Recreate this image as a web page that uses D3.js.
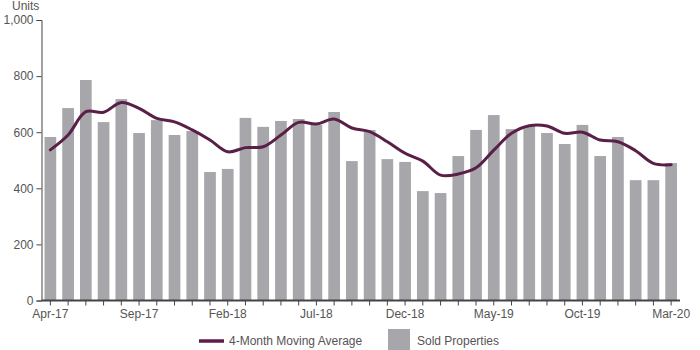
<!DOCTYPE html>
<html>
<head>
<meta charset="utf-8">
<script src="https://cdn.jsdelivr.net/npm/d3@7"></script>
<style>
  body { margin: 0; background: #fff; }
  svg text { font-family: "Liberation Sans", Arial, sans-serif; fill: #555; }
</style>
</head>
<body>
<svg id="chart"></svg>
<script>
var months = ["Apr-17","May-17","Jun-17","Jul-17","Aug-17","Sep-17","Oct-17","Nov-17","Dec-17",
  "Jan-18","Feb-18","Mar-18","Apr-18","May-18","Jun-18","Jul-18","Aug-18","Sep-18","Oct-18","Nov-18","Dec-18",
  "Jan-19","Feb-19","Mar-19","Apr-19","May-19","Jun-19","Jul-19","Aug-19","Sep-19","Oct-19","Nov-19","Dec-19",
  "Jan-20","Feb-20","Mar-20"];
var sold = [583, 686, 786, 636, 718, 597, 643, 590, 604,
  458, 469, 651, 619, 640, 647, 626, 672, 497, 608, 504, 494,
  390, 383, 515, 608, 661, 611, 622, 597, 558, 626, 515, 583,
  429, 429, 490];
var movingAvg = [537, 590, 673, 671, 706, 685, 649, 637, 608,
  572, 530, 545, 548, 590, 635, 629, 647, 615, 602, 566, 525,
  497, 447, 451, 473, 536, 596, 623, 622, 596, 600, 572, 566,
  534, 489, 484];
var yTicks = [0, 200, 400, 600, 800, 1000];

var width = 700, height = 350;
var svg = d3.select("#chart").attr("width", width).attr("height", height);

var x = d3.scaleBand().domain(months).range([41.5, 680]).paddingInner(0.34).paddingOuter(0.17);
var y = d3.scaleLinear().domain([0, 1000]).range([300.5, 20]);

// bars
svg.append("g").selectAll("rect")
  .data(sold)
  .enter().append("rect")
  .attr("x", function(d, i) { return x(months[i]); })
  .attr("y", function(d) { return y(d); })
  .attr("width", x.bandwidth())
  .attr("height", function(d) { return y(0) - y(d); })
  .attr("fill", "#a7a7ab");

// moving average
var line = d3.line()
  .x(function(d, i) { return x(months[i]) + x.bandwidth() / 2; })
  .y(function(d) { return y(d); })
  .curve(d3.curveCatmullRom.alpha(0.5));

svg.append("path")
  .datum(movingAvg)
  .attr("d", line)
  .attr("fill", "none")
  .attr("stroke", "#5a1f47")
  .attr("stroke-width", 3)
  .attr("stroke-linecap", "round");

// y axis
var yAxis = svg.append("g")
  .attr("transform", "translate(41.5,0)")
  .call(d3.axisLeft(y).tickValues(yTicks).tickSize(5).tickPadding(3).tickFormat(d3.format(",")));
yAxis.select(".domain").attr("stroke", "#444");
yAxis.selectAll(".tick line").attr("stroke", "#444");
yAxis.selectAll("text").attr("font-size", 12).attr("fill", "#555");

// x axis
var xAxis = svg.append("g")
  .attr("transform", "translate(0,300.5)")
  .call(d3.axisBottom(x).tickSize(5).tickSizeOuter(0).tickPadding(4)
    .tickFormat(function(d, i) { return i % 5 === 0 ? d : ""; }));
xAxis.select(".domain").attr("stroke", "#444").attr("stroke-width", 2)
  .attr("d", "M41.5,0H680");
xAxis.selectAll(".tick line").attr("stroke", "#444");
xAxis.selectAll("text").attr("font-size", 12).attr("fill", "#555");

// units label
svg.append("text")
  .attr("x", 12).attr("y", 10)
  .attr("font-size", 12)
  .text("Units");

// legend
var legend = svg.append("g");
legend.append("line")
  .attr("x1", 199).attr("x2", 224).attr("y1", 341).attr("y2", 341)
  .attr("stroke", "#5a1f47").attr("stroke-width", 3.5);
legend.append("text")
  .attr("x", 229).attr("y", 345)
  .attr("font-size", 12)
  .text("4-Month Moving Average");
legend.append("rect")
  .attr("x", 388).attr("y", 329).attr("width", 22).attr("height", 22)
  .attr("fill", "#a7a7ab");
legend.append("text")
  .attr("x", 417).attr("y", 345)
  .attr("font-size", 12)
  .text("Sold Properties");
</script>
</body>
</html>
